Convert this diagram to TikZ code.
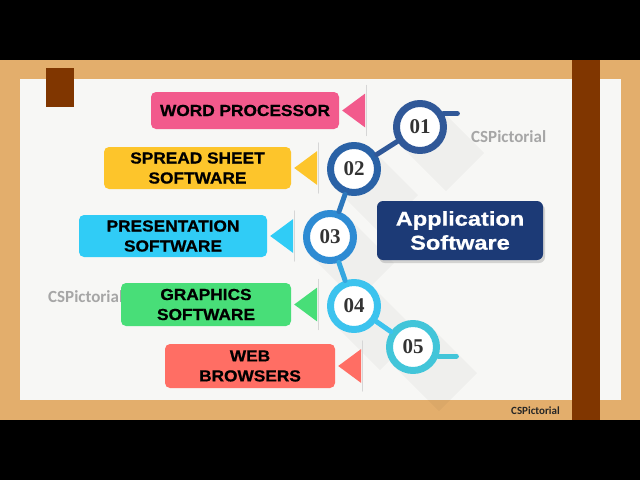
\documentclass[tikz,border=0pt]{standalone}
\usepackage{fontspec}
\setmainfont{Liberation Sans}
\newfontfamily\boxfont[FakeStretch=1.08, FakeBold=0.8]{Liberation Sans}
\newfontfamily\titlefont[FakeStretch=1.18, FakeBold=0.8]{Liberation Sans}
\newfontfamily\numfont{Liberation Serif}
\newfontfamily\markfont{Carlito}
\usetikzlibrary{calc,shadows}

\definecolor{frametan}{RGB}{227,174,108}
\definecolor{framebrown}{RGB}{128,54,0}
\definecolor{paper}{RGB}{247,247,245}
\definecolor{pinkbox}{RGB}{242,90,140}
\definecolor{yellowbox}{RGB}{253,197,43}
\definecolor{cyanbox}{RGB}{48,204,246}
\definecolor{greenbox}{RGB}{72,222,120}
\definecolor{salmonbox}{RGB}{255,110,100}
\definecolor{navy}{RGB}{28,58,118}
\definecolor{ringA}{RGB}{48,88,152}
\definecolor{ringB}{RGB}{42,98,166}
\definecolor{ringC}{RGB}{46,139,211}
\definecolor{ringD}{RGB}{60,195,238}
\definecolor{ringE}{RGB}{66,197,217}
\definecolor{numgray}{RGB}{51,51,51}

\begin{document}
\begin{tikzpicture}[x=1pt, y=-1pt, line cap=round, line join=round]

% ------------------------------------------------
% Styles
% ------------------------------------------------
\tikzset{
    lbl/.style={rounded corners=5pt, align=center, inner sep=0pt, text=black,
        minimum width=188pt, minimum height=42pt,
        font=\boxfont\bfseries\fontsize{16}{20}\selectfont},
    ring/.style={circle, draw, line width=7pt, fill=white, minimum size=47pt,
        inner sep=0pt, text=numgray,
        font=\numfont\bfseries\fontsize{21}{21}\selectfont},
    link/.style={line width=5pt},
    ptrline/.style={line width=1.2pt, black!16},
    longshade/.style={fill=black, opacity=0.03},
    wmark/.style={text=black!35, inner sep=0pt,
        font=\markfont\bfseries\fontsize{17}{17}\selectfont},
}

% ------------------------------------------------
% Frame
% ------------------------------------------------
\fill[black] (0,0) rectangle (640,480);
\fill[frametan] (0,60) rectangle (640,420);
\fill[paper] (20,79) rectangle (621,400);
\fill[framebrown] (572,60) rectangle (600,420);
\fill[framebrown] (46,68) rectangle (74,107);

% watermarks
\node[wmark, anchor=west] (m1) at (471,137) {CSPictorial};
\node[wmark, anchor=west] (m2) at (48,297) {CSPictorial};
\node[anchor=west, inner sep=0pt, text=black!85,
    font=\markfont\bfseries\fontsize{11}{11}\selectfont] (m3) at (511,411) {CSPictorial};

% ------------------------------------------------
% Main coordinates
% ------------------------------------------------
\coordinate (P1) at (420,127);
\coordinate (P2) at (354,169);
\coordinate (P3) at (330,237);
\coordinate (P4) at (354,306);
\coordinate (P5) at (413,347);

% long shadows
\foreach \P in {P1,P2,P3,P4,P5}{
    \fill[longshade] ($(\P)+(19,-19)$) -- ($(\P)+(-19,19)$)
        -- ++(45,45) -- ++(38,-38) -- cycle;
}

% ------------------------------------------------
% Category boxes
% ------------------------------------------------
\node[lbl, fill=pinkbox, minimum height=37pt] (w1) at (245,110.5) {WORD PROCESSOR};
\node[lbl, fill=yellowbox, minimum width=187pt] (w2) at (197.5,168) {SPREAD SHEET\\SOFTWARE};
\node[lbl, fill=cyanbox] (w3) at (173,236) {PRESENTATION\\SOFTWARE};
\node[lbl, fill=greenbox, minimum width=170pt, minimum height=43pt] (w4) at (206,304.5) {GRAPHICS\\SOFTWARE};
\node[lbl, fill=salmonbox, minimum width=170pt, minimum height=44pt] (w5) at (250,366) {WEB\\BROWSERS};

% pointers
\foreach \b/\col in {w1/pinkbox,w2/yellowbox,w3/cyanbox,w4/greenbox,w5/salmonbox}{
    \draw[ptrline] ($(\b.east)+(27,-25)$) -- ++(0,50);
    \fill[\col] ($(\b.east)+(3,0)$) -- ++(23,-17) -- ++(0,34) -- cycle;
}

% ------------------------------------------------
% Numbered rings
% ------------------------------------------------
\node[ring, draw=ringA] (c1) at (P1) {01};
\node[ring, draw=ringB] (c2) at (P2) {02};
\node[ring, draw=ringC] (c3) at (P3) {03};
\node[ring, draw=ringD] (c4) at (P4) {04};
\node[ring, draw=ringE] (c5) at (P5) {05};

\draw[link, ringA] (c1) -- (c2);
\draw[link, ringB!50!ringC] (c2) -- (c3);
\draw[link, ringC!50!ringD] (c3) -- (c4);
\draw[link, ringD] (c4) -- (c5);

\draw[link, ringA] (c1.30) -- ++(14,0);
\draw[link, ringE] (c5.-20) -- ++(18,0);

% ------------------------------------------------
% Title
% ------------------------------------------------
\node[fill=navy, rounded corners=6pt, minimum width=166pt, minimum height=59pt,
    align=center, text=white, inner sep=0pt,
    drop shadow={opacity=0.3, shadow xshift=2pt, shadow yshift=-3pt},
    font=\titlefont\bfseries\fontsize{20}{24}\selectfont] (app) at (460,230.5)
    {Application\\Software};

\end{tikzpicture}
\end{document}
